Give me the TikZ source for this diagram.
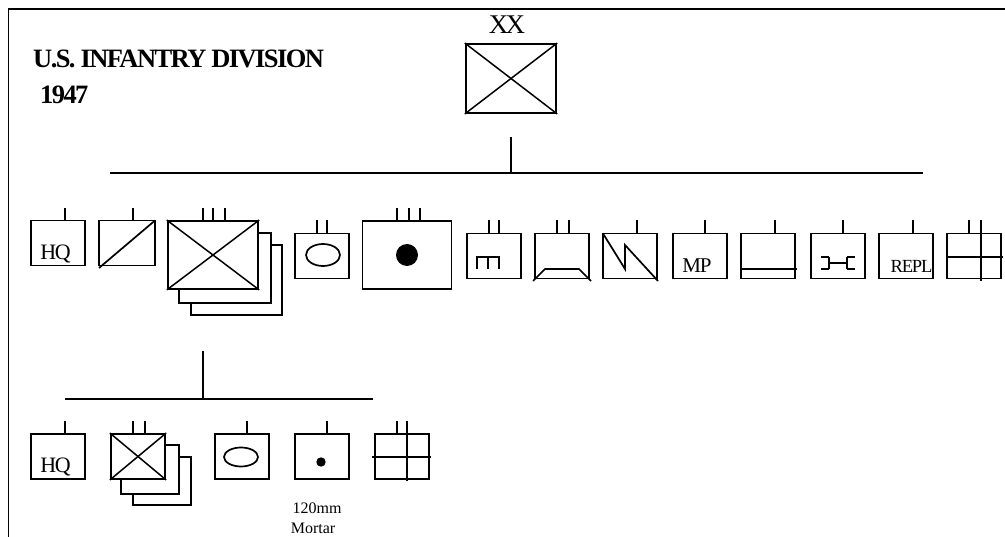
\documentclass[tikz,border=0pt]{standalone}
\usepackage{fontspec}
\setmainfont{Liberation Serif}
\newfontfamily\tightfont[LetterSpace=-6]{Liberation Serif}
\newfontfamily\tighterfont[LetterSpace=-11]{Liberation Serif}
\usetikzlibrary{shapes.geometric}
\tikzset{
  unitline/.style={line width=1.7pt},
  diagline/.style={line width=1.5pt, shorten <=-1.5pt, shorten >=-1.5pt},
  unitbox/.style={draw, line width=1.7pt, inner sep=0pt, outer sep=0pt, minimum width=54pt, minimum height=45pt},
  bigbox/.style={unitbox, minimum width=89pt, minimum height=68pt},
  lbl/.style={inner sep=0pt, anchor=base, font=\tightfont\fontsize{22}{22}\selectfont},
  smalllbl/.style={inner sep=0pt, anchor=base, font=\tightfont\fontsize{18.5}{18.5}\selectfont},
  notelbl/.style={inner sep=0pt, anchor=base, font=\fontsize{16}{16}\selectfont},
  titlelbl/.style={inner sep=0pt, anchor=base west, font=\tightfont\fontsize{26.5}{26.5}\selectfont\bfseries},
}
\begin{document}
\begin{tikzpicture}[x=1pt,y=-1pt]
  \useasboundingbox (0,0) rectangle (1005,537);
  % Moldura
  \draw[unitline] (8.5,537) -- (8.5,9) -- (1005,9);
  % Titulo
  \node[titlelbl] (title) at (33,67.5) {U.S. INFANTRY DIVISION};
  \node[titlelbl] (year) at (40,104) {1947};
  % Divisao
  \node[unitbox, minimum width=90pt, minimum height=69pt] (div) at (511,78.5) {};
  \node[lbl, font=\tighterfont\fontsize{27}{27}\selectfont] (divlabel) at (507,34) {XX};
  \draw[diagline] (div.north west) -- (div.south east);
  \draw[diagline] (div.north east) -- (div.south west);
  % Barra superior
  \coordinate (topstem) at (511,137);
  \coordinate (topleft) at (110,173);
  \coordinate (topright) at (923,173);
  \draw[unitline] (topleft) -- (topright);
  \draw[unitline] (topstem) -- (topstem |- topleft);
  % Primeira linha
  \node[unitbox] (hq) at (58,243) {};
  \node[lbl] (hqlabel) at (55.5,260) {HQ};
  \draw[unitline] (65,208) -- (65,221);
  \node[unitbox, minimum width=56pt] (aviation) at (127,243) {};
  \draw[unitline] (133,208) -- (133,221);
  \draw[unitline] (99,268) -- (aviation.north east);
  % Regimentos
  \node[bigbox, minimum width=90pt] (inf) at (213,255) {};
  \draw[unitline] (203,208) -- (203,221);
  \draw[unitline] (213,208) -- (213,221);
  \draw[unitline] (225,208) -- (225,221);
  \draw[diagline] (inf.north west) -- (inf.south east);
  \draw[diagline] (inf.north east) -- (inf.south west);
  \draw[unitline] (258,233) -- (271,233) -- (271,303) -- (179,303) -- (179,289);
  \draw[unitline] (271,245) -- (282,245) -- (282,315) -- (191,315) -- (191,303);
  % Cavalaria
  \node[unitbox] (recon) at (322,256) {};
  \draw[unitline] (317,220) -- (317,233);
  \draw[unitline] (327,220) -- (327,233);
  \node[draw, unitline, ellipse, minimum width=34pt, minimum height=22pt, inner sep=0pt] (reconsym) at (323,255) {};
  % Artilharia
  \node[bigbox] (arty) at (407,255) {};
  \draw[unitline] (397,208) -- (397,221);
  \draw[unitline] (409,208) -- (409,221);
  \draw[unitline] (420,208) -- (420,221);
  \fill (407,255) circle (11);
  % Engenharia
  \node[unitbox] (engr) at (494,256) {};
  \draw[unitline] (489,220) -- (489,233);
  \draw[unitline] (499,220) -- (499,233);
  \draw[unitline] (477,269) -- (477,257) -- (499,257) -- (499,269);
  \draw[unitline] (488,257) -- (488,269);
  % Blindados
  \node[unitbox] (tank) at (562,256) {};
  \draw[unitline] (557,220) -- (557,233);
  \draw[unitline] (569,220) -- (569,233);
  \draw[unitline] (533,281) -- (545,269) -- (579,269) -- (591,281);
  % Transmissoes
  \node[unitbox] (signal) at (630,256) {};
  \draw[unitline] (637,220) -- (637,233);
  \draw[unitline] (signal.north west) -- (625,269) -- (625,245) -- (658,281);
  % Policia militar
  \node[unitbox] (mp) at (700,256) {};
  \draw[unitline] (705,220) -- (705,233);
  \node[lbl, font=\tightfont\fontsize{21}{21}\selectfont] (mplabel) at (697,273) {MP};
  % Intendencia
  \node[unitbox] (qm) at (768,256) {};
  \draw[unitline] (775,220) -- (775,233);
  \draw[unitline] (741,269) -- (797,269);
  % Material
  \node[unitbox] (ord) at (838,256) {};
  \draw[unitline] (843,220) -- (843,233);
  \draw[unitline] (829,257) -- (821,257);
  \draw[unitline] (821,269) -- (829,269);
  \draw[unitline] (829,257) -- (829,269);
  \draw[unitline] (847,257) -- (855,257);
  \draw[unitline] (847,269) -- (855,269);
  \draw[unitline] (847,257) -- (847,269);
  \draw[unitline] (829,263) -- (847,263);
  % Recompletamento
  \node[unitbox] (repl) at (906,256) {};
  \draw[unitline] (913,220) -- (913,233);
  \node[smalllbl] (repllabel) at (911.5,273) {REPL};
  % Medico
  \node[unitbox] (med) at (974,256) {};
  \draw[unitline] (969,220) -- (969,233);
  \draw[unitline] (981,220) -- (981,281);
  \draw[unitline] (947,257) -- (1003,257);
  % Barra inferior
  \coordinate (lowstem) at (203,351);
  \coordinate (lowleft) at (65,399);
  \coordinate (lowright) at (373,399);
  \draw[unitline] (lowleft) -- (lowright);
  \draw[unitline] (lowstem) -- (lowstem |- lowleft);
  % Segunda linha
  \node[unitbox] (reghq) at (58,456.5) {};
  \node[lbl] (reghqlabel) at (55.5,473) {HQ};
  \draw[unitline] (65,421) -- (65,434);
  \node[unitbox] (bn) at (138,456.5) {};
  \draw[unitline] (133,421) -- (133,434);
  \draw[unitline] (145,421) -- (145,434);
  \draw[diagline] (bn.north west) -- (bn.south east);
  \draw[diagline] (bn.north east) -- (bn.south west);
  \draw[unitline] (165,445) -- (179,445) -- (179,494) -- (121,494) -- (121,479);
  \draw[unitline] (179,457) -- (191,457) -- (191,505) -- (133,505) -- (133,494);
  \node[unitbox] (regrecon) at (242,456.5) {};
  \draw[unitline] (247,421) -- (247,434);
  \node[draw, unitline, ellipse, minimum width=34pt, minimum height=19pt, inner sep=0pt] (regreconsym) at (241,457) {};
  \node[unitbox] (mortar) at (322,456.5) {};
  \draw[unitline] (327,421) -- (327,434);
  \fill (321,462) circle (4.7);
  \node[notelbl] (mortarcal) at (317,513.5) {120mm};
  \node[notelbl] (mortarname) at (313,533) {Mortar};
  \node[unitbox] (regmed) at (402,456.5) {};
  \draw[unitline] (397,421) -- (397,434);
  \draw[unitline] (407,421) -- (407,481);
  \draw[unitline] (372,457) -- (431,457);
\end{tikzpicture}
\end{document}
